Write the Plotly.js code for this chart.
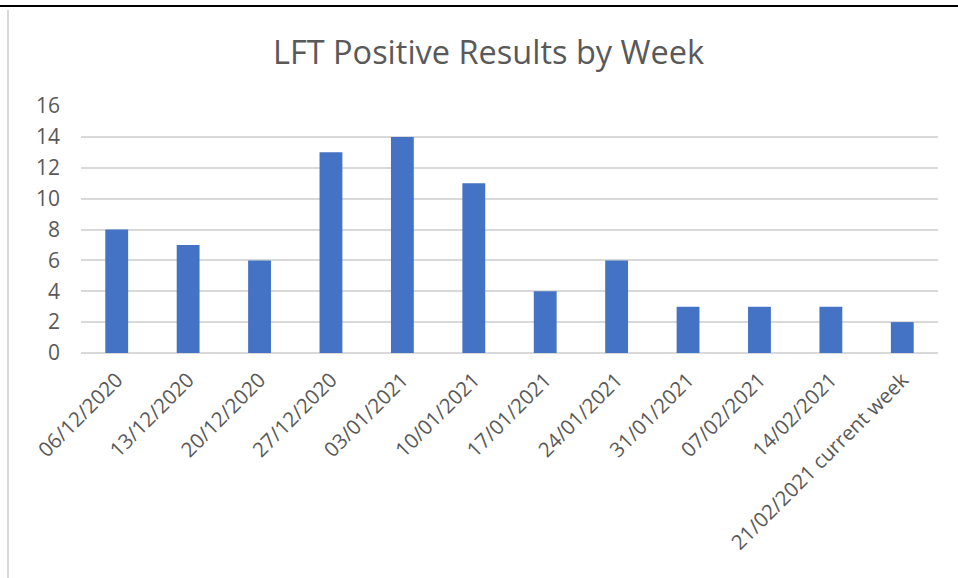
<!DOCTYPE html>
<html>
<head>
<meta charset="utf-8">
<script src="https://cdn.plot.ly/plotly-3.0.1.min.js"></script>
<style>html,body{margin:0;padding:0;background:#fff;}#chart{width:958px;height:578px;}</style>
</head>
<body>
<div id="chart"></div>
<script>
const weeks = ["06/12/2020","13/12/2020","20/12/2020","27/12/2020","03/01/2021","10/01/2021","17/01/2021","24/01/2021","31/01/2021","07/02/2021","14/02/2021","21/02/2021 current week"];
const positives = [8,7,6,13,14,11,4,6,3,3,3,2];

const L = 81, R = 20, T = 106, B = 225, W = 958, H = 578;
const pw = W - L - R, ph = H - T - B;
const px = x => (x - L) / pw;
const py = y => (H - B - y) / ph;

Plotly.newPlot('chart', [{
  type: 'bar',
  x: weeks,
  y: positives,
  marker: {color: '#4472C4'},
  hoverinfo: 'x+y'
}], {
  width: W, height: H,
  margin: {l: L, r: R, t: T, b: B, pad: 0},
  paper_bgcolor: '#fff', plot_bgcolor: '#fff',
  bargap: 0.68,
  font: {family: '"Open Sans", "Noto Sans", sans-serif', color: '#595959'},
  title: {text: 'LFT Positive Results by Week', x: 0.51, xanchor: 'center', y: 1 - 53/H, yanchor: 'middle',
          font: {size: 32.5, color: '#595959', family: '"Open Sans", "Noto Sans", sans-serif'}},
  xaxis: {type: 'category', tickangle: -45, tickfont: {size: 20.5, color: '#595959'},
          showgrid: false, showline: false, zeroline: false, ticks: '', ticklabelstandoff: 10},
  yaxis: {range: [0, 16], dtick: 2, tickfont: {size: 21, color: '#595959'},
          gridcolor: '#D9D9D9', gridwidth: 1.5, zeroline: true, zerolinecolor: '#D9D9D9', zerolinewidth: 1.5,
          showline: false, ticks: '', ticklabelstandoff: 20},
  showlegend: false,
  shapes: [
    {type: 'line', xref: 'paper', yref: 'paper', x0: px(0), x1: px(W), y0: py(6), y1: py(6), line: {color: '#000', width: 2}},
    {type: 'line', xref: 'paper', yref: 'paper', x0: px(8), x1: px(8), y0: py(10), y1: py(H), line: {color: '#D9D9D9', width: 2}}
  ]
}, {displayModeBar: false});
</script>
</body>
</html>
